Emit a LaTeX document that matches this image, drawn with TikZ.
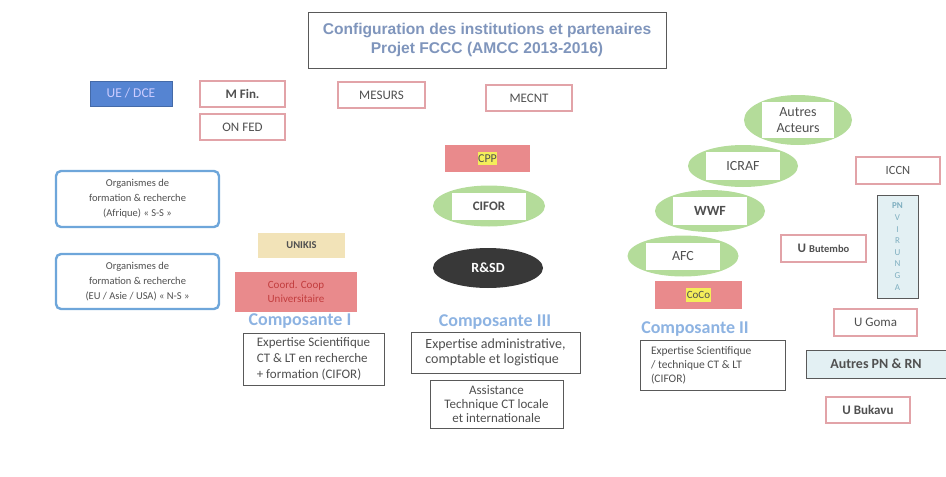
\documentclass[tikz,border=0pt]{standalone}
\usepackage{fontspec}
\setmainfont{Carlito}
\newfontfamily\titlefont{Liberation Sans}
\usetikzlibrary{shapes.geometric}
\definecolor{redline}{HTML}{E2A3A8}
\definecolor{txt}{HTML}{505050}
\definecolor{titleblue}{HTML}{7F95BC}
\definecolor{orgblue}{HTML}{6EA6DA}
\definecolor{ueblue}{HTML}{5584D2}
\definecolor{salmon}{HTML}{E98A8C}
\definecolor{lgreen}{HTML}{B4DC9A}
\definecolor{lyellow}{HTML}{F2E3B8}
\definecolor{lblue}{HTML}{E3F0F3}
\definecolor{compblue}{HTML}{8DB3E2}
\definecolor{hl}{HTML}{F4EE5A}
\definecolor{pntxt}{HTML}{7FAFC0}
\newcommand{\fs}[2]{\fontsize{#1}{#2}\selectfont}
\tikzset{
  redbox/.style={draw=redline, line width=1.1pt, fill=white, text=txt, font=\fs{13}{15}, inner sep=0pt},
  graybox/.style={draw=gray!70!black, line width=0.7pt, fill=white, text=txt, inner sep=0pt},
  orgbox/.style={draw=orgblue, line width=2.4pt, rounded corners=5pt, fill=white, text=txt, font=\fs{10.5}{15}, align=center, inner sep=0pt},
  gell/.style={ellipse, fill=lgreen, inner sep=0pt},
  inrect/.style={fill=white, inner sep=0pt, text=txt, font=\fs{14}{16}, align=center},
  comp/.style={text=compblue, font=\bfseries\fs{18}{20}},
}
\begin{document}
\begin{tikzpicture}[x=1pt,y=-1pt]
\useasboundingbox (0,0) rectangle (946,477);
% title
\node[draw=gray!70!black, line width=0.7pt, minimum width=358pt, minimum height=56pt, inner sep=0pt, align=center, text=titleblue, font=\titlefont\bfseries\fs{15.6}{19}] (title) at (487,40) {Configuration des institutions et partenaires\\Projet FCCC (AMCC 2013-2016)};
% top row
\node[fill=ueblue, draw=ueblue!80!black, line width=0.4pt, minimum width=82pt, minimum height=25pt, inner sep=0pt, text=white!80!blue, font=\fs{13.5}{15}] (ue) at (131,93.5) {UE / DCE};
\node[redbox, minimum width=85pt, minimum height=26pt] (mfin) at (242.5,94) {\textbf{M Fin.}};
\node[redbox, minimum width=85pt, minimum height=26pt] (onfed) at (242.5,127) {ON FED};
\node[redbox, minimum width=87pt, minimum height=26pt] (mesurs) at (381.5,95) {MESURS};
\node[redbox, minimum width=86pt, minimum height=26pt] (mecnt) at (529,98) {MECNT};
% center column
\node[fill=salmon, minimum width=85pt, minimum height=27pt, inner sep=0pt, font=\fs{12}{14}, text=txt] (cpp) at (487.5,158.5) {\colorbox{hl}{\kern-2.5pt CPP\kern-2.5pt}};
\node[gell, minimum width=112pt, minimum height=41pt] (cifor) at (489,206) {};
\node[inrect, minimum width=74pt, minimum height=27pt, font=\bfseries\fs{13}{15}] (ciforl) at (cifor) {CIFOR};
\node[ellipse, fill=black!78, minimum width=110pt, minimum height=40pt, inner sep=0pt, text=white, font=\bfseries\fs{14}{16}] (rsd) at (488,268) {R\&SD};
% left column
\node[orgbox, minimum width=163pt, minimum height=56pt] (org1) at (137.5,199) {Organismes de\\formation \& recherche\\(Afrique) « S-S »};
\node[orgbox, minimum width=163pt, minimum height=55pt] (org2) at (137.5,281.5) {Organismes de\\formation \& recherche\\(EU / Asie / USA) « N-S »};
\node[fill=lyellow, minimum width=87pt, minimum height=25pt, inner sep=0pt, text=txt, font=\bfseries\fs{10.5}{12}] (unikis) at (301.5,245.5) {UNIKIS};
\node[fill=salmon, minimum width=122pt, minimum height=40pt, inner sep=0pt, align=center, text=red!45!salmon!80!black, font=\fs{11}{14}] (ccu) at (296,292) {Coord. Coop\\Universitaire};
% composantes
\node[comp] (comp1) at (300,321) {Composante I};
\node[graybox, minimum width=141pt, minimum height=52pt, align=left, font=\fs{13}{16}] (exp1) at (313.5,359) {Expertise Scientifique\\CT \& LT en recherche\\+ formation (CIFOR)};
\node[comp] (comp3) at (495,322) {Composante III};
\node[graybox, minimum width=169pt, minimum height=41pt, align=left, font=\fs{14}{15}] (exp3) at (495.5,352.5) {Expertise administrative,\\comptable et logistique};
\node[graybox, minimum width=133pt, minimum height=48pt, align=center, font=\fs{13}{14}] (asst) at (496.5,404) {Assistance\\Technique CT locale\\et internationale};
\node[comp] (comp2) at (695,329) {Composante II};
\node[graybox, text width=123pt, inner xsep=11pt, minimum height=50pt, align=flush left, font=\fs{11.5}{14}] (exp2) at (712.5,365) {Expertise Scientifique\\/ technique CT \& LT\\(CIFOR)};
% green ellipses right
\node[gell, minimum width=108pt, minimum height=50pt] (autres) at (798,120) {};
\node[inrect, minimum width=72pt, minimum height=36pt, font=\fs{14}{16}] (autresl) at (autres) {Autres\\Acteurs};
\node[gell, minimum width=110pt, minimum height=42pt] (icraf) at (743,166) {};
\node[inrect, minimum width=74pt, minimum height=28pt] (icrafl) at (icraf) {ICRAF};
\node[gell, minimum width=110pt, minimum height=42pt] (wwf) at (710,211) {};
\node[inrect, minimum width=74pt, minimum height=28pt, font=\bfseries\fs{14}{16}] (wwfl) at (wwf) {WWF};
\node[gell, minimum width=111pt, minimum height=41pt] (afc) at (683,256) {};
\node[inrect, minimum width=74pt, minimum height=27pt] (afcl) at (afc) {AFC};
\node[fill=salmon, minimum width=87pt, minimum height=28pt, inner sep=0pt, font=\fs{11}{13}, text=txt] (coco) at (698.5,295) {\colorbox{hl}{\kern-2.5pt CoCo\kern-2.5pt}};
% far right
\node[redbox, minimum width=84pt, minimum height=27pt, font=\fs{12.5}{14}] (iccn) at (898,170.5) {ICCN};
\node[draw=gray!70!black, line width=0.8pt, fill=lblue, minimum width=41pt, minimum height=103pt, inner sep=0pt, align=center, text=pntxt, font=\fs{9}{11.6}] (pnv) at (897.5,246.5) {\textbf{PN}\\V\\I\\R\\U\\N\\G\\A};
\node[redbox, minimum width=85pt, minimum height=27pt] (ubut) at (823.5,248.5) {\textbf{U} {\bfseries\fs{10.5}{12}Butembo}};
\node[redbox, minimum width=83pt, minimum height=27pt] (ugoma) at (875.5,322.5) {U Goma};
\node[draw=gray!70!black, line width=0.6pt, fill=lblue, minimum width=140pt, minimum height=28pt, inner sep=0pt, text=txt, font=\bfseries\fs{14}{16}] (autrespn) at (876,364) {Autres PN \& RN};
\node[redbox, minimum width=84pt, minimum height=26pt, font=\bfseries\fs{13}{15}] (ubuk) at (868,410) {U Bukavu};
\end{tikzpicture}
\end{document}
